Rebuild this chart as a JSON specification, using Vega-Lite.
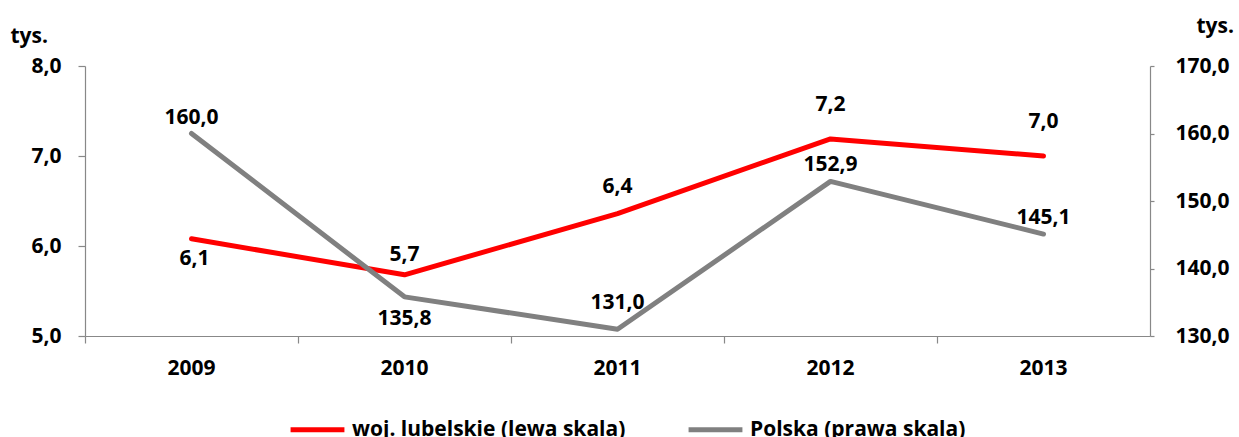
{
  "$schema": "https://vega.github.io/schema/vega-lite/v6.json",
  "autosize": {"type": "none"},
  "width": 1065,
  "height": 270,
  "padding": {"left": 85, "top": 66, "right": 89, "bottom": 101},
  "config": {
    "locale": {"number": {"decimal": ",", "thousands": " ", "grouping": [3], "currency": ["", " zł"]}},
    "font": "Open Sans",
    "view": {"stroke": null},
    "axis": {
      "labelFont": "Open Sans", "labelFontWeight": "bold", "labelFontSize": 21, "labelColor": "#000000",
      "domainColor": "#888888", "tickColor": "#888888", "domainWidth": 1.2, "tickWidth": 1.2, "grid": false,
      "titleFont": "Open Sans", "titleFontWeight": "bold", "titleFontSize": 21, "titleColor": "#000000"
    },
    "text": {"font": "Open Sans", "fontWeight": "bold", "fontSize": 21, "color": "#000000"}
  },
  "data": {
    "values": [
      {"year": "2009", "series": "woj. lubelskie (lewa skala)", "value": 6.08},
      {"year": "2010", "series": "woj. lubelskie (lewa skala)", "value": 5.68},
      {"year": "2011", "series": "woj. lubelskie (lewa skala)", "value": 6.36},
      {"year": "2012", "series": "woj. lubelskie (lewa skala)", "value": 7.19},
      {"year": "2013", "series": "woj. lubelskie (lewa skala)", "value": 7.0},
      {"year": "2009", "series": "Polska (prawa skala)", "value": 160.0},
      {"year": "2010", "series": "Polska (prawa skala)", "value": 135.8},
      {"year": "2011", "series": "Polska (prawa skala)", "value": 131.0},
      {"year": "2012", "series": "Polska (prawa skala)", "value": 152.9},
      {"year": "2013", "series": "Polska (prawa skala)", "value": 145.1}
    ]
  },
  "encoding": {
    "x": {
      "field": "year", "type": "ordinal",
      "scale": {"type": "band", "paddingInner": 0, "paddingOuter": 0},
      "axis": {"title": null, "labelAngle": 0, "bandPosition": 0, "tickSize": 7, "labelPadding": 14}
    }
  },
  "layer": [
    {
      "transform": [{"filter": "datum.series == 'woj. lubelskie (lewa skala)'"}],
      "encoding": {
        "y": {
          "field": "value", "type": "quantitative",
          "scale": {"domain": [5, 8], "zero": false, "nice": false},
          "axis": {
            "orient": "left", "values": [5, 6, 7, 8], "format": ".1f", "tickSize": 7, "labelPadding": 17,
            "title": "tys.", "titleAngle": 0, "titleAlign": "left", "titleBaseline": "middle", "titleX": -75, "titleY": -30
          }
        }
      },
      "layer": [
        {
          "mark": {"type": "line", "strokeWidth": 5, "strokeCap": "round", "strokeJoin": "round"},
          "encoding": {
            "color": {
              "field": "series", "type": "nominal",
              "scale": {"domain": ["woj. lubelskie (lewa skala)", "Polska (prawa skala)"], "range": ["#FF0000", "#808080"]},
              "legend": {
                "title": null, "orient": "none", "legendX": 203, "legendY": 334, "direction": "horizontal",
                "symbolType": "stroke", "symbolSize": 2900, "symbolStrokeWidth": 5,
                "labelFont": "Open Sans", "labelFontWeight": "bold", "labelFontSize": 21, "labelColor": "#000000",
                "labelLimit": 400, "columnPadding": 52, "labelOffset": 5
              }
            }
          }
        },
        {"transform": [{"filter": "datum.year == '2009'"}], "mark": {"type": "text", "dy": 20, "dx": 3}, "encoding": {"text": {"field": "value", "type": "quantitative", "format": ".1f"}}},
        {"transform": [{"filter": "datum.year == '2010'"}], "mark": {"type": "text", "dy": -20}, "encoding": {"text": {"field": "value", "type": "quantitative", "format": ".1f"}}},
        {"transform": [{"filter": "datum.year == '2011'"}], "mark": {"type": "text", "dy": -27}, "encoding": {"text": {"field": "value", "type": "quantitative", "format": ".1f"}}},
        {"transform": [{"filter": "datum.year == '2012' || datum.year == '2013'"}], "mark": {"type": "text", "dy": -34}, "encoding": {"text": {"field": "value", "type": "quantitative", "format": ".1f"}}}
      ]
    },
    {
      "transform": [{"filter": "datum.series == 'Polska (prawa skala)'"}],
      "encoding": {
        "y": {
          "field": "value", "type": "quantitative",
          "scale": {"domain": [130, 170], "zero": false, "nice": false},
          "axis": {
            "orient": "right", "values": [130, 140, 150, 160, 170], "format": ".1f", "tickSize": 4, "labelPadding": 21,
            "title": "tys.", "titleAngle": 0, "titleAlign": "left", "titleBaseline": "middle", "titleX": 46, "titleY": -40
          }
        }
      },
      "layer": [
        {
          "mark": {"type": "line", "strokeWidth": 5, "strokeCap": "round", "strokeJoin": "round"},
          "encoding": {"color": {"field": "series", "type": "nominal"}}
        },
        {"transform": [{"filter": "datum.year == '2010'"}], "mark": {"type": "text", "dy": 22}, "encoding": {"text": {"field": "value", "type": "quantitative", "format": ".1f"}}},
        {"transform": [{"filter": "datum.year == '2011'"}], "mark": {"type": "text", "dy": -26}, "encoding": {"text": {"field": "value", "type": "quantitative", "format": ".1f"}}},
        {"transform": [{"filter": "datum.year == '2009' || datum.year == '2012' || datum.year == '2013'"}], "mark": {"type": "text", "dy": -16}, "encoding": {"text": {"field": "value", "type": "quantitative", "format": ".1f"}}}
      ]
    }
  ],
  "resolve": {"scale": {"y": "independent"}}
}
